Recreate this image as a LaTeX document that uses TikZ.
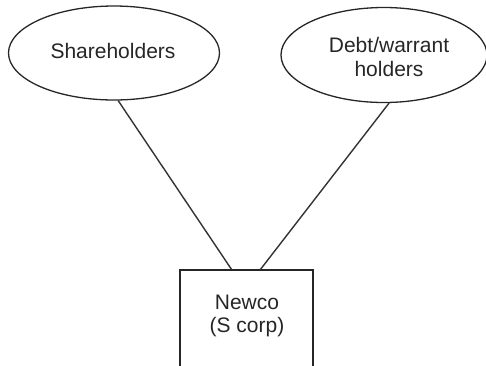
\documentclass[tikz,border=0pt]{standalone}
\usepackage{fontspec}
\setmainfont{Liberation Sans}
\usetikzlibrary{shapes.geometric,calc}
\begin{document}
\begin{tikzpicture}[x=1pt,y=-1pt,
  party/.style={ellipse,draw=black!85,line width=1.3pt,inner sep=0pt},
  entity/.style={rectangle,draw=black!85,line width=1.3pt,inner sep=0pt,
    minimum width=133pt,minimum height=100pt,align=center},
  link/.style={draw=black!80,line width=1.4pt},
  lbl/.style={font=\fontsize{21}{24}\selectfont,text=black!85,align=center}]
  \useasboundingbox (0,0) rectangle (486,365);
  % owners
  \node[party,minimum width=211pt,minimum height=94pt] (sh) at (114,53) {};
  \node[lbl] at (113,51) {Shareholders};
  \node[party,minimum width=206pt,minimum height=95pt] (dw) at (384,55) {};
  \node[lbl] at (389,57) {Debt/warrant\\holders};
  % company
  \node[entity] (nc) at (246.5,320) {};
  \node[lbl,font=\fontsize{21}{23}\selectfont] at (247,316) {Newco\\(S corp)};
  % ownership links
  \coordinate (ncl) at ($(nc.north)+(-15,0)$);
  \coordinate (ncr) at ($(nc.north)+(14,0)$);
  \draw[link] (sh.-85) -- (ncl);
  \draw[link] (dw.-84) -- (ncr);
\end{tikzpicture}
\end{document}
